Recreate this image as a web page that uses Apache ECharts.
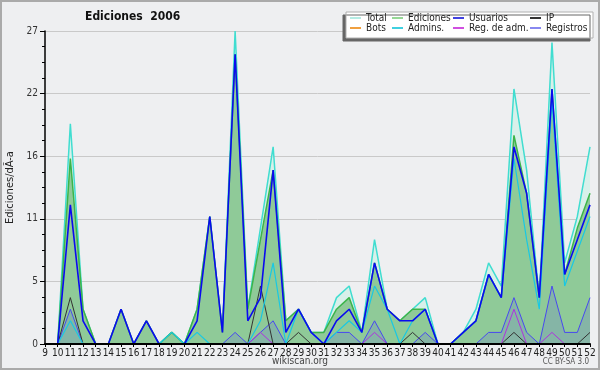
<!DOCTYPE html>
<html>
<head>
<meta charset="utf-8">
<script src="https://cdn.jsdelivr.net/npm/echarts@6/dist/echarts.min.js"></script>
<style>
html, body { margin: 0; padding: 0; background: #eeeff1; }
#chart { width: 600px; height: 370px; }
</style>
</head>
<body>
<div id="chart"></div>
<script>
// semanas del año
const weeks = ['9', '10', '11', '12', '13', '14', '15', '16', '17', '18', '19', '20', '21', '22', '23',
    '24', '25', '26', '27', '28', '29', '30', '31', '32', '33', '34', '35', '36', '37', '38', '39', '40',
    '41', '42', '43', '44', '45', '46', '47', '48', '49', '50', '51', '52'];

const total     = [0, 0, 19, 3, 0, 0, 3, 0, 2, 0, 1, 0, 3, 11, 1, 27, 3, 10, 17, 2, 3, 1, 1, 4, 5, 1, 9, 3, 2, 3, 4, 0, 0, 1, 3, 7, 5, 22, 15, 4, 26, 7, 11, 17];
const ediciones = [0, 0, 16, 3, 0, 0, 3, 0, 2, 0, 1, 0, 3, 11, 1, 25, 3, 9, 15, 2, 3, 1, 1, 3, 4, 1, 7, 3, 2, 3, 3, 0, 0, 1, 2, 6, 4, 18, 13, 4, 22, 6, 10, 13];
const usuarios  = [0, 0, 12, 2, 0, 0, 3, 0, 2, 0, 0, 0, 2, 11, 1, 25, 2, 4, 15, 1, 3, 1, 0, 2, 3, 1, 7, 3, 2, 2, 3, 0, 0, 1, 2, 6, 4, 17, 13, 4, 22, 6, 9, 12];
const ip        = [0, 0, 4, 0, 0, 0, 0, 0, 0, 0, 0, 0, 0, 0, 0, 0, 0, 5, 0, 0, 1, 0, 0, 0, 0, 0, 0, 0, 0, 1, 0, 0, 0, 0, 0, 0, 0, 1, 0, 0, 0, 0, 0, 1];
const bots      = [0, 0, 0, 0, 0, 0, 0, 0, 0, 0, 0, 0, 0, 0, 0, 0, 0, 0, 0, 0, 0, 0, 0, 0, 0, 0, 0, 0, 0, 0, 0, 0, 0, 0, 0, 0, 0, 0, 0, 0, 0, 0, 0, 0];
const admins    = [0, 0, 2, 0, 0, 0, 0, 0, 0, 0, 1, 0, 1, 0, 0, 0, 0, 2, 7, 0, 3, 1, 0, 1, 2, 1, 5, 3, 0, 2, 3, 0, 0, 1, 2, 6, 4, 16, 9, 3, 21, 5, 8, 11];
const regAdm    = [0, 0, 0, 0, 0, 0, 0, 0, 0, 0, 0, 0, 0, 0, 0, 0, 0, 1, 0, 0, 0, 0, 0, 0, 0, 0, 1, 0, 0, 0, 0, 0, 0, 0, 0, 0, 0, 3, 0, 0, 1, 0, 0, 0];
const registros = [0, 0, 3, 0, 0, 0, 0, 0, 0, 0, 0, 0, 0, 0, 0, 1, 0, 1, 2, 0, 0, 0, 0, 1, 1, 0, 2, 0, 0, 0, 1, 0, 0, 0, 0, 1, 1, 4, 1, 0, 5, 1, 1, 4];

const FONT = '"DejaVu Sans Condensed", "DejaVu Sans"';

function lineSeries(name, data, legendColor, color, width, area, z) {
    const s = {
        name: name,
        type: 'line',
        data: data,
        showSymbol: false,
        symbol: 'none',
        z: z,
        itemStyle: {color: legendColor},
        lineStyle: {color: color, width: width},
        emphasis: {disabled: true}
    };
    if (area) {
        s.areaStyle = {color: area, opacity: 1};
    }
    return s;
}

const chart = echarts.init(document.getElementById('chart'));

const legendBase = {
    orient: 'vertical',
    top: 13,
    z: 10,
    padding: 0,
    itemGap: 0,
    itemWidth: 11,
    itemHeight: 2,
    icon: 'rect',
    selectedMode: false,
    textStyle: {fontSize: 10, lineHeight: 10, color: '#222', fontFamily: FONT}
};

const option = {
    backgroundColor: '#eeeff1',
    animation: false,
    title: {
        text: 'Ediciones  2006',
        left: 85,
        top: 11,
        padding: 0,
        textStyle: {fontSize: 12, fontWeight: 'bold', color: '#111', fontFamily: FONT}
    },
    legend: [
        Object.assign({}, legendBase, {left: 350, data: ['Total', 'Bots']}),
        Object.assign({}, legendBase, {left: 392, data: ['Ediciones', 'Admins.']}),
        Object.assign({}, legendBase, {left: 453, data: ['Usuarios', 'Reg. de adm.']}),
        Object.assign({}, legendBase, {left: 530, data: ['IP', 'Registros']})
    ],
    grid: {left: 45, right: 10, top: 31, bottom: 26, containLabel: false, outerBoundsMode: 'none'},
    xAxis: {
        type: 'category',
        data: weeks,
        boundaryGap: false,
        z: 5,
        axisLine: {show: true, lineStyle: {color: '#000', width: 2}},
        axisTick: {show: true, length: 3, interval: 0, lineStyle: {color: '#000'}},
        axisLabel: {interval: 0, margin: 4, fontSize: 10, color: '#222', fontFamily: FONT},
        splitLine: {show: false}
    },
    yAxis: {
        type: 'value',
        min: 0,
        max: 27,
        interval: 5.4,
        name: 'Ediciones/dÃ-a',
        nameLocation: 'middle',
        nameGap: 29,
        nameRotate: 90,
        nameTextStyle: {fontSize: 11, color: '#222', fontFamily: FONT},
        axisLine: {show: true, lineStyle: {color: '#000', width: 1.5}},
        axisTick: {show: true, length: 5, lineStyle: {color: '#000'}},
        minorTick: {show: true, splitNumber: 4, length: 3, lineStyle: {color: '#000'}},
        axisLabel: {
            margin: 7, fontSize: 10, color: '#333', fontFamily: FONT,
            formatter: v => String(Math.round(v))
        },
        splitLine: {show: true, lineStyle: {color: '#c9c9c9', width: 1}}
    },
    series: [
        lineSeries('Total', total, '#b4ece4', '#40ddd0', 1.5, '#d8f0ea', 1),
        lineSeries('Ediciones', ediciones, '#96d896', '#3cb44a', 1.5, '#8fca98', 2),
        lineSeries('Registros', registros, '#8888f0', '#4848f0', 1, 'rgba(90,90,235,0.18)', 3),
        lineSeries('IP', ip, '#333333', '#333333', 1, null, 3),
        lineSeries('Bots', bots, '#f0a040', '#f0a040', 1, null, 3),
        lineSeries('Admins.', admins, '#40d0e0', '#18c8e4', 1.2, null, 3),
        lineSeries('Reg. de adm.', regAdm, '#d050e0', '#b030e0', 1, null, 3),
        lineSeries('Usuarios', usuarios, '#4040e0', '#0a0af0', 1.6, null, 4)
    ],
    graphic: [
        {
            type: 'rect', z: 1, silent: true,
            shape: {x: 1, y: 1, width: 598, height: 368},
            style: {fill: 'none', stroke: '#aaaaaa', lineWidth: 2}
        },
        {
            type: 'rect', z: 8, silent: true,
            shape: {x: 346, y: 12, width: 247, height: 26},
            style: {
                fill: '#ffffff', stroke: '#b0b0b0', lineWidth: 1,
                shadowColor: '#666666', shadowBlur: 0, shadowOffsetX: -3, shadowOffsetY: 3
            }
        },
        {
            type: 'text', z: 8, silent: true,
            left: 'center', top: 356,
            style: {text: 'wikiscan.org', fontSize: 10, fill: '#444', fontFamily: FONT}
        },
        {
            type: 'text', z: 8, silent: true,
            right: 11, top: 358,
            style: {text: 'CC BY-SA 3.0', fontSize: 8, fill: '#555', fontFamily: FONT}
        }
    ]
};

chart.setOption(option);
</script>
</body>
</html>
